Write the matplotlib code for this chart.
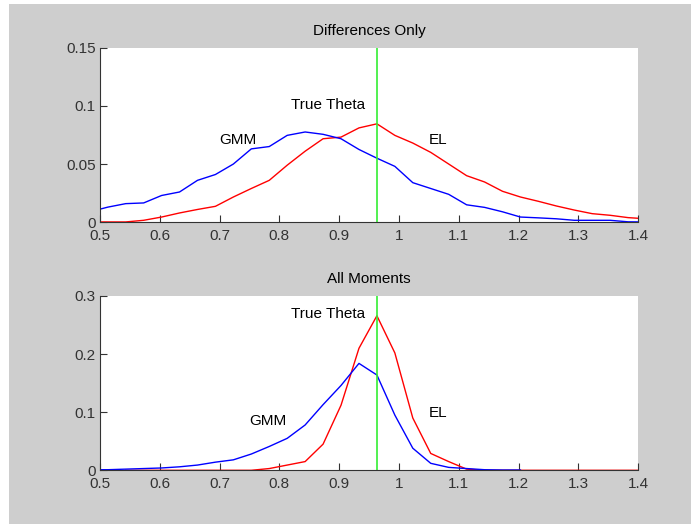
import numpy as np
import matplotlib
matplotlib.use('Agg')
import matplotlib.pyplot as plt
from matplotlib.patches import Rectangle

plt.rcParams['font.family'] = ['Liberation Sans', 'DejaVu Sans']
plt.rcParams['font.size'] = 11

# bin centres, 0.03 apart around the true theta
x = [0.483, 0.513, 0.543, 0.573, 0.603, 0.633, 0.663, 0.693, 0.723, 0.753,
     0.783, 0.813, 0.843, 0.873, 0.903, 0.933, 0.963, 0.993, 1.023, 1.053,
     1.083, 1.113, 1.143, 1.173, 1.203, 1.233, 1.263, 1.293, 1.323, 1.353,
     1.383, 1.413]
true_theta = 0.9633

# Differences only
gmm_diff = [0.009, 0.013, 0.016, 0.0166, 0.023, 0.026, 0.036, 0.041, 0.050, 0.063,
            0.065, 0.0746, 0.0775, 0.0755, 0.0717, 0.0625, 0.055, 0.048, 0.034, 0.029,
            0.024, 0.015, 0.0128, 0.009, 0.0045, 0.0038, 0.003, 0.0017, 0.0017, 0.0017,
            0.0004, 0.0003]
el_diff = [0.0003, 0.0003, 0.0003, 0.0017, 0.0045, 0.008, 0.011, 0.0137, 0.0217, 0.029,
           0.036, 0.049, 0.061, 0.0717, 0.0731, 0.081, 0.0845, 0.0746, 0.068, 0.060,
           0.050, 0.040, 0.0346, 0.0266, 0.0217, 0.018, 0.014, 0.0105, 0.0074, 0.006,
           0.004, 0.003]

# All moments
nan = np.nan
gmm_all = [0.001, 0.001, 0.002, 0.003, 0.004, 0.006, 0.009, 0.014, 0.018, 0.028,
           0.041, 0.055, 0.078, 0.113, 0.146, 0.184, 0.164, 0.095, 0.038, 0.012,
           0.005, 0.003, 0.001, 0.0005, 0.0005, nan, nan, nan, nan, nan,
           nan, nan]
el_all = [nan, nan, 0.0, 0.0, 0.0, 0.0, 0.0, 0.0, 0.0, 0.0,
          0.003, 0.009, 0.015, 0.045, 0.112, 0.21, 0.266, 0.202, 0.09, 0.029,
          0.015, 0.002, 0.0, 0.0, 0.0, 0.0, 0.0, 0.0, 0.0, 0.0,
          0.0, 0.0]

fig = plt.figure(figsize=(6.91, 5.25), dpi=100, facecolor='white')
fig.patches.append(Rectangle((9 / 691, 1 / 525), 1, 1 - 5 / 525,
                             transform=fig.transFigure, facecolor='#cecece',
                             edgecolor='none', zorder=-10))

panels = [
    dict(pos=[0.1447, 0.5766, 0.779, 0.3329], gmm=gmm_diff, el=el_diff,
         title='Differences Only', ylim=0.15, yticks=[0, 0.05, 0.1, 0.15],
         ylabels=['0', '0.05', '0.1', '0.15'],
         tt=(0.881, 0.1005), gl=(0.731, 0.0705), el_xy=(1.065, 0.0705)),
    dict(pos=[0.1447, 0.1042, 0.779, 0.332], gmm=gmm_all, el=el_all,
         title='All Moments', ylim=0.3, yticks=[0, 0.1, 0.2, 0.3],
         ylabels=['0', '0.1', '0.2', '0.3'],
         tt=(0.881, 0.2695), gl=(0.781, 0.0855), el_xy=(1.065, 0.0993)),
]

for p in panels:
    ax = fig.add_axes(p['pos'])
    ax.plot(x, p['el'], color='red', lw=1)
    ax.plot(x, p['gmm'], color='blue', lw=1)
    ax.axvline(true_theta, color='#33ee33', lw=1.2)
    ax.set_xlim(0.5, 1.4)
    ax.set_ylim(0, p['ylim'])
    ax.set_xticks(np.round(np.arange(0.5, 1.41, 0.1), 1))
    ax.set_xticklabels(['0.5', '0.6', '0.7', '0.8', '0.9', '1', '1.1', '1.2', '1.3', '1.4'])
    ax.set_yticks(p['yticks'])
    ax.set_yticklabels(p['ylabels'])
    ax.tick_params(direction='in', length=5, width=0.8, colors='#333333',
                   labelsize=11)
    ax.tick_params(axis='x', pad=5)
    ax.tick_params(axis='y', pad=3)
    ax.spines['top'].set_visible(False)
    ax.spines['right'].set_visible(False)
    for s in ('left', 'bottom'):
        ax.spines[s].set_color('#333333')
    ax.set_title(p['title'], fontsize=11, pad=9)
    ax.text(p['tt'][0], p['tt'][1], 'True Theta', ha='center', va='center')
    ax.text(p['gl'][0], p['gl'][1], 'GMM', ha='center', va='center')
    ax.text(p['el_xy'][0], p['el_xy'][1], 'EL', ha='center', va='center')

fig.savefig('out.png', dpi=100)
